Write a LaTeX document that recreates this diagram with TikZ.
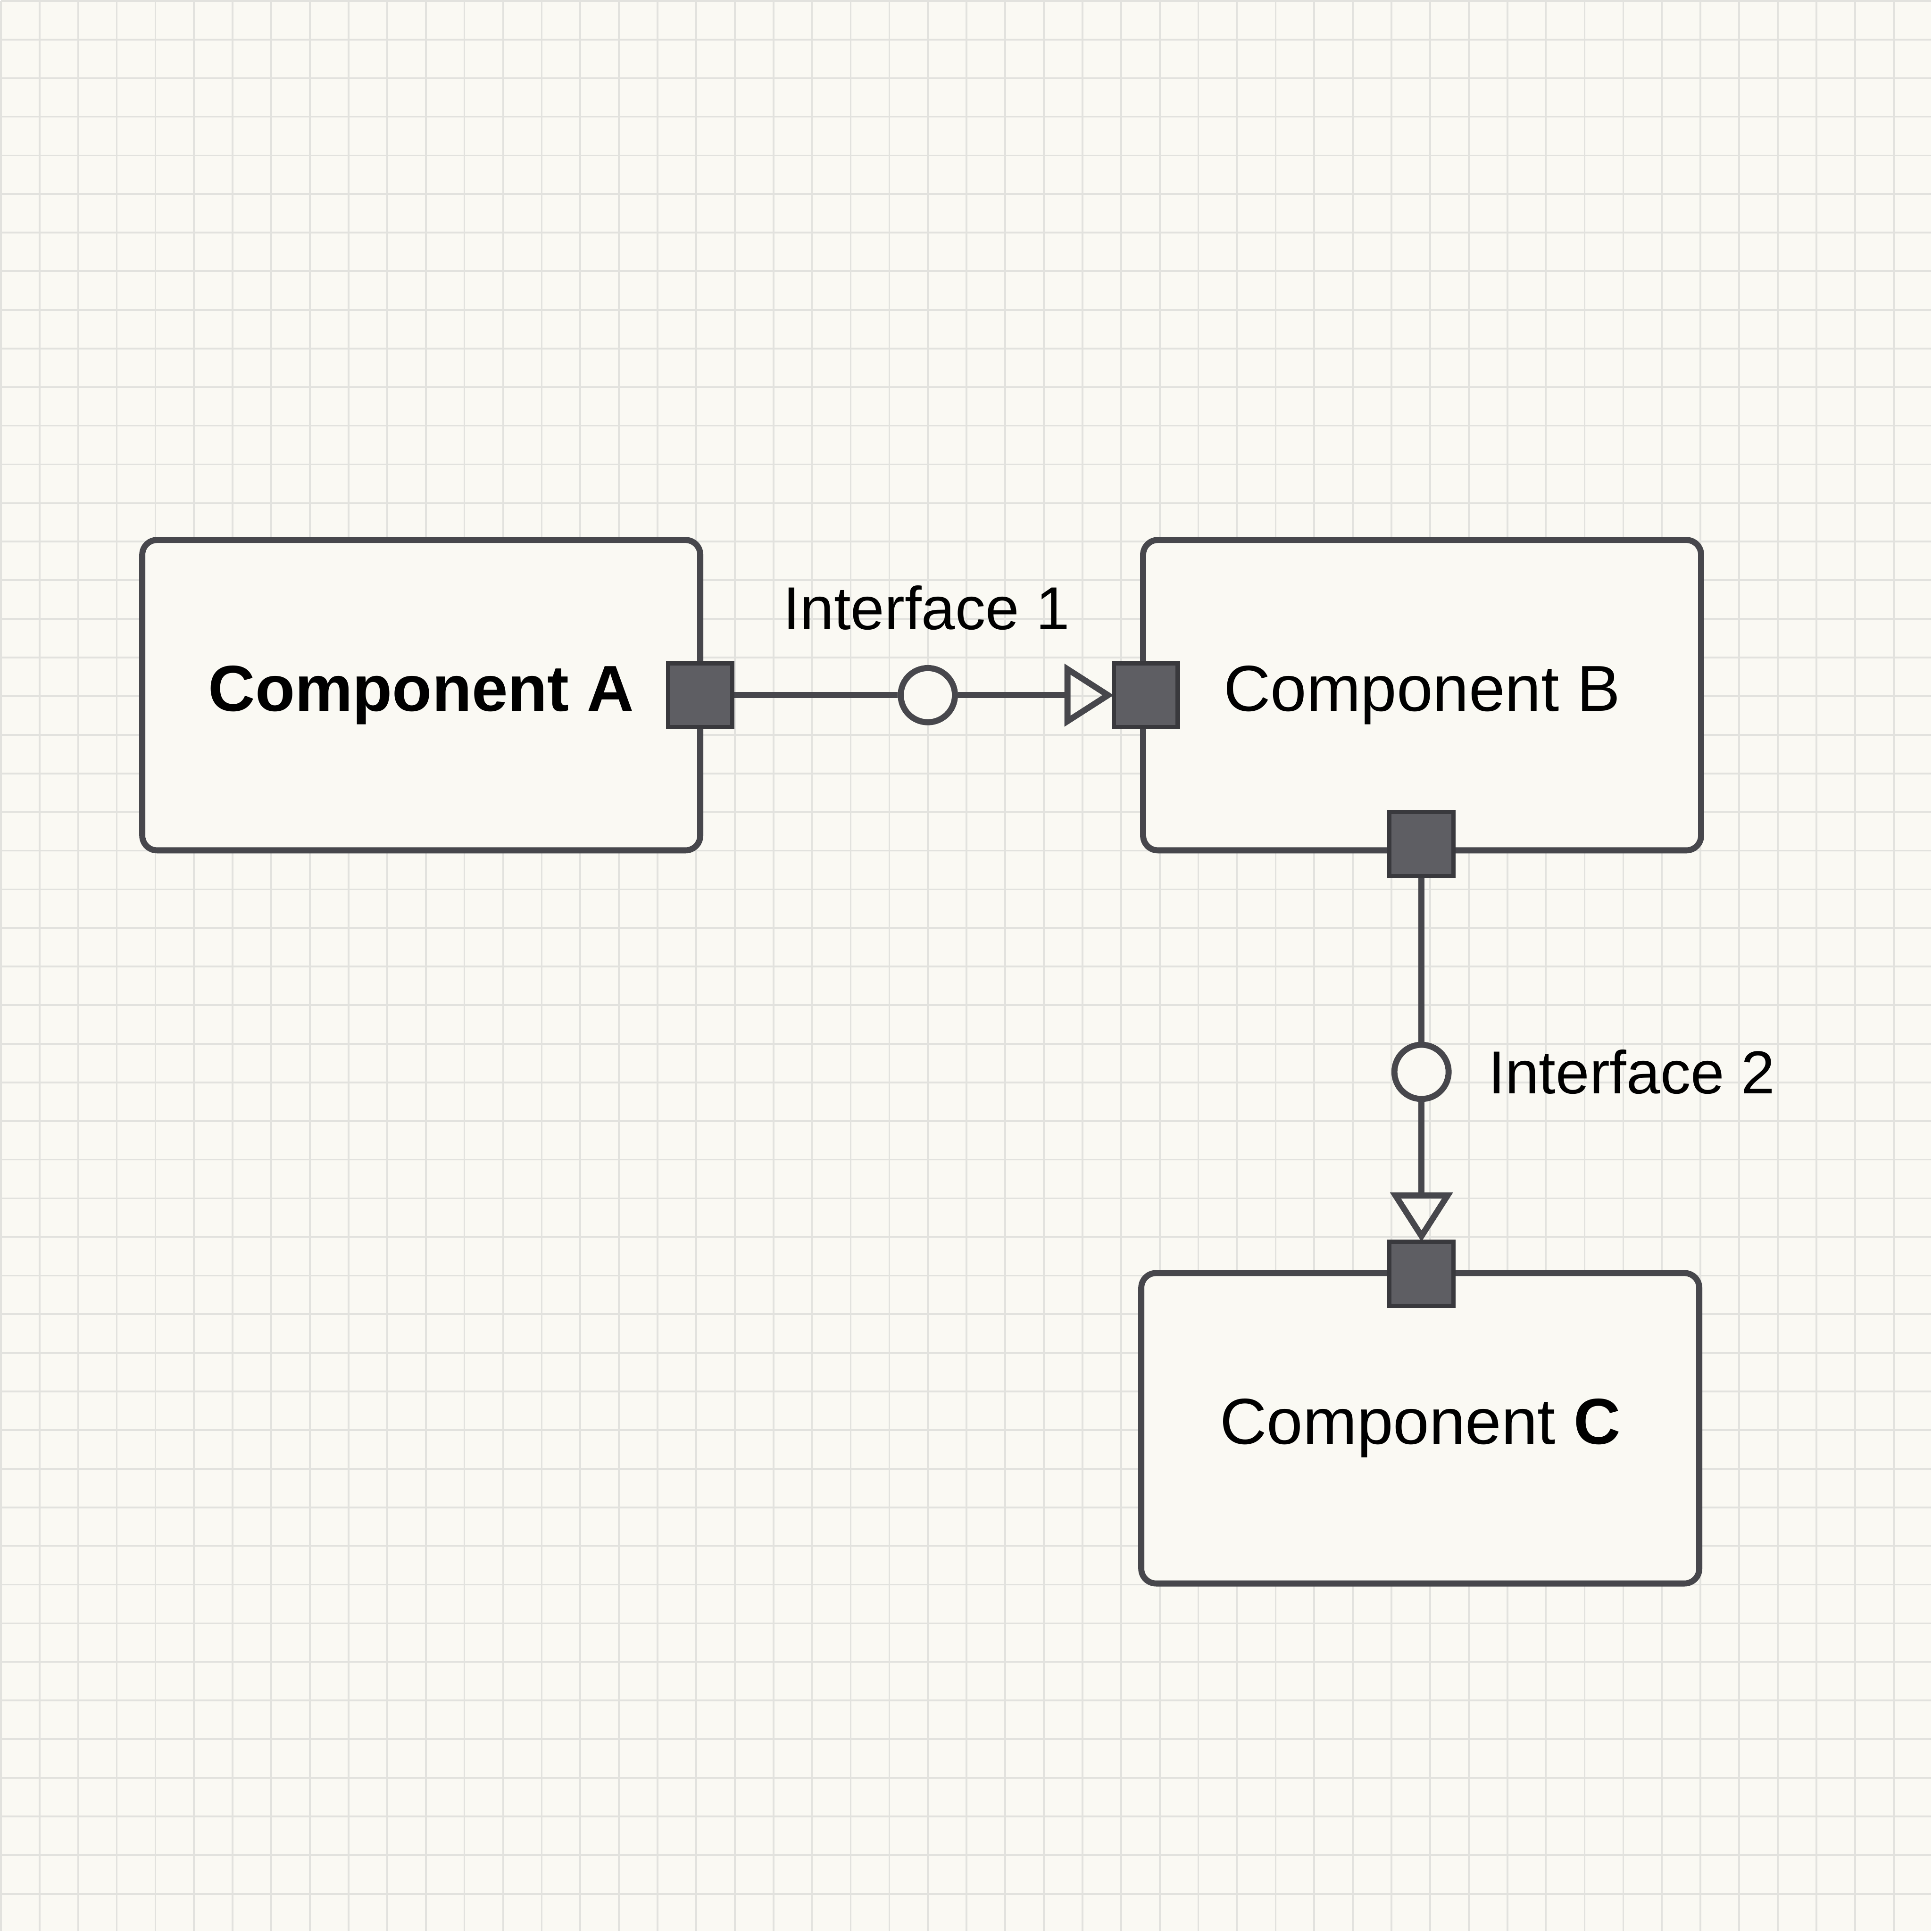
\documentclass[tikz,border=0pt]{standalone}
\usepackage{fontspec}
\setmainfont{Liberation Sans}
\usetikzlibrary{arrows.meta,positioning}
\definecolor{paper}{HTML}{FAF9F3}
\definecolor{gridc}{HTML}{E2E2DE}
\definecolor{ink}{HTML}{47474C}
\definecolor{portc}{HTML}{5E5E63}
\tikzset{
  comp/.style={draw=ink,line width=1.4pt,rounded corners=0.12cm,fill=paper,minimum width=4.53cm,minimum height=2.52cm,font=\fontsize{15}{17}\selectfont},
  port/.style={draw=ink!80!black,line width=1pt,fill=portc,minimum size=0.52cm,inner sep=0pt},
  iface/.style={draw=ink,line width=1.4pt,fill=paper,circle,minimum size=0.44cm,inner sep=0pt},
  link/.style={ink,line width=1.4pt},
  lbl/.style={font=\fontsize{14}{16}\selectfont}
}
\begin{document}
\begin{tikzpicture}[x=0.01cm,y=-0.01cm]
\fill[paper] (0,0) rectangle (1568,1568);
\draw[gridc,line width=0.4pt,step=0.3136cm] (0,0) grid (1568,1568);
\useasboundingbox (0,0) rectangle (1568,1568);

\node[comp] (A) at (341.5,564) {\raisebox{-0.6ex}{\textbf{Component A}}};
\node[comp] (B) at (1154.5,564) {\raisebox{-0.6ex}{Component B}};
\node[comp] (C) at (1153,1159.5) {Component \textbf{C}};

\node[iface] (i1) at (753,564) {};
\node[iface] (i2) at (1154,870) {};
\node[lbl] (l1) at (752,493) {Interface 1};
\node[lbl,anchor=west] (l2) at (1196,870) {Interface 2};

\coordinate (pa) at (568,564);
\coordinate (pb) at (930,564);
\coordinate (pbs) at (1154,685);
\coordinate (pc) at (1154,1034);

\draw[link] (pa) -- (i1);
\draw[link,-{Triangle[open,length=0.4cm,width=0.5cm]}] (i1) -- ([xshift=-0.26cm]pb);
\draw[link] (pbs) -- (i2);
\draw[link,-{Triangle[open,length=0.4cm,width=0.5cm]}] (i2) -- ([yshift=0.26cm]pc);

\node[port] (PA) at (pa) {};
\node[port] (PB) at (pb) {};
\node[port] (PBS) at (pbs) {};
\node[port] (PC) at (pc) {};
\end{tikzpicture}
\end{document}
